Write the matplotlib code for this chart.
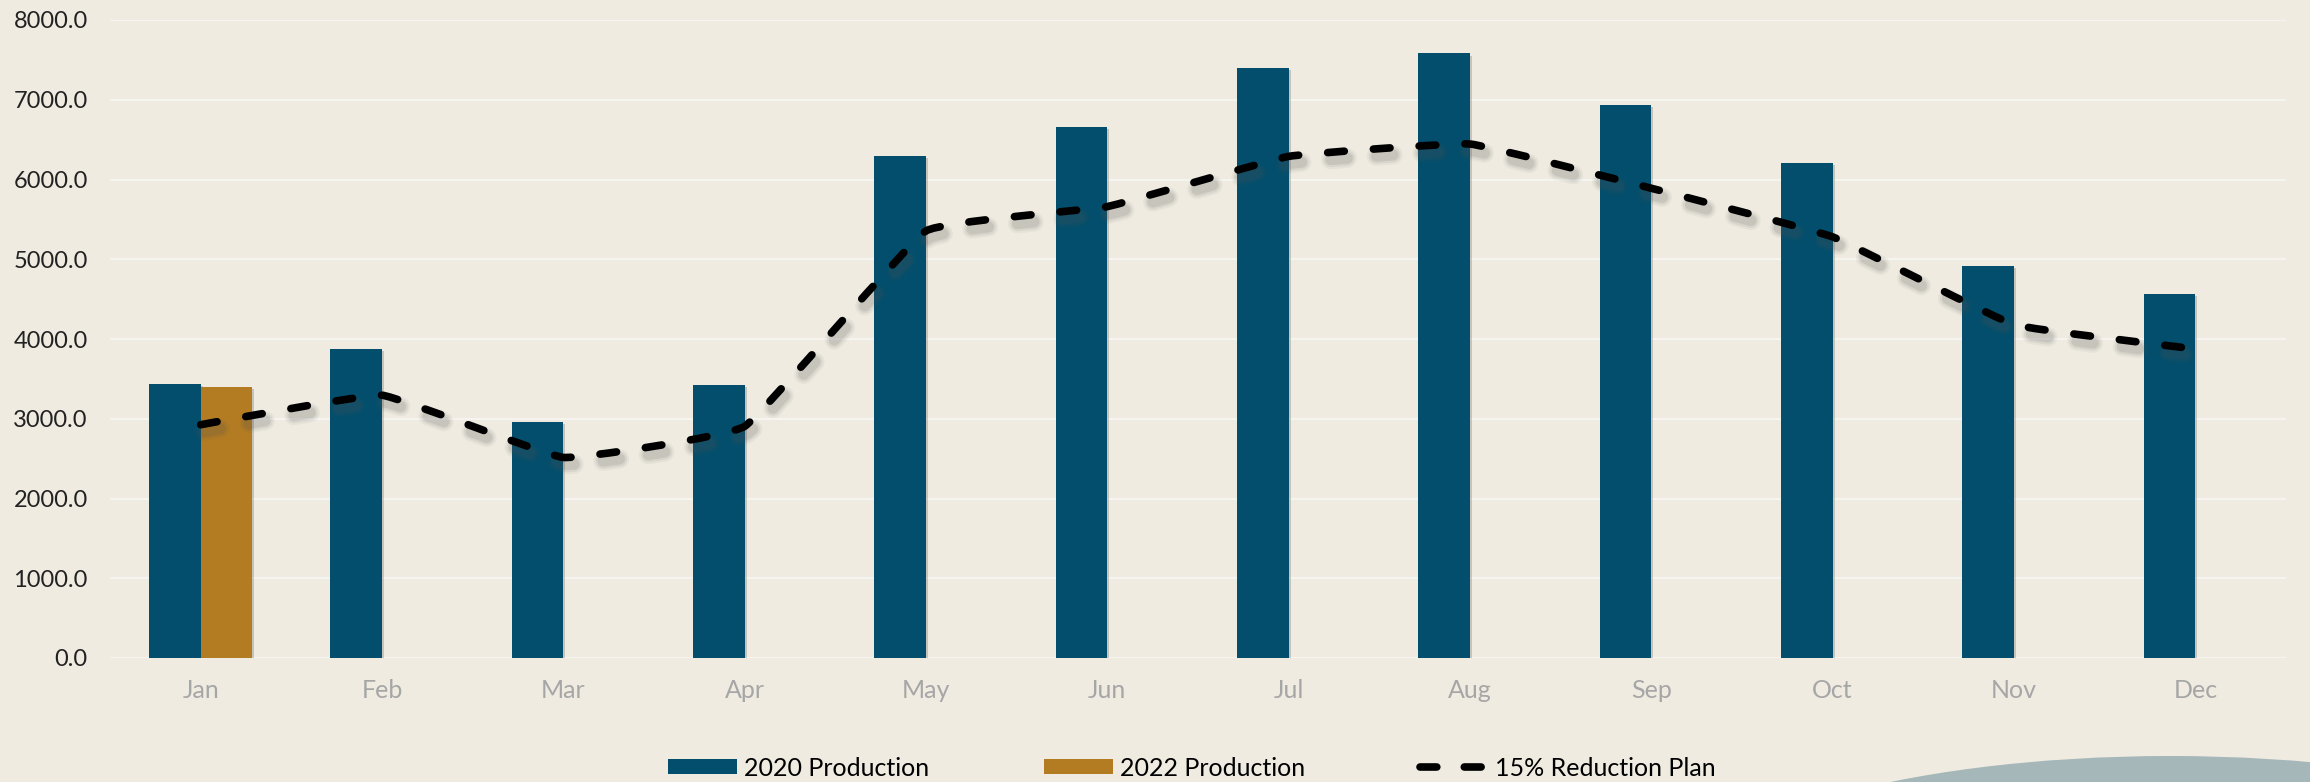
"""
2020 vs 2022 monthly production with the 15% reduction plan
"""
import matplotlib
matplotlib.use('Agg')
import matplotlib.pyplot as plt
import matplotlib.transforms as mtransforms
import matplotlib.patheffects as pe
from matplotlib.path import Path
from matplotlib.patches import PathPatch, Ellipse
from matplotlib.lines import Line2D
from matplotlib.patches import Patch
import numpy as np

plt.rcParams['font.family'] = ['Lato', 'DejaVu Sans']

months = ['Jan', 'Feb', 'Mar', 'Apr', 'May', 'Jun',
          'Jul', 'Aug', 'Sep', 'Oct', 'Nov', 'Dec']
prod_2020 = [3440, 3880, 2960, 3420, 6300, 6660,
             7400, 7580, 6930, 6210, 4920, 4560]
prod_2022_months = ['Jan']
prod_2022 = [3400]
reduction_plan = [2925, 3295, 2515, 2905, 5355, 5660,
                  6290, 6445, 5890, 5280, 4180, 3875]
y_ticks = [0, 1000, 2000, 3000, 4000, 5000, 6000, 7000, 8000]

BG = '#EFEBE1'
BLUE = '#024E6C'
GOLD = '#B47C22'

fig = plt.figure(figsize=(23.1, 7.82), dpi=100, facecolor=BG)
ax = fig.add_axes([110 / 2310, 124 / 782, 2176 / 2310, 638 / 782])
ax.set_facecolor(BG)

x = np.arange(len(months))
w = 0.285

# bars (2022 only has January), with a faint drop shadow
bar_fx = [pe.SimplePatchShadow(offset=(1.5, -1.5), shadow_rgbFace='#7a7a7a', alpha=0.35),
          pe.Normal()]
b1 = ax.bar(x - w / 2, prod_2020, width=w, color=BLUE, zorder=3)
x22 = [months.index(m) for m in prod_2022_months]
b2 = ax.bar(np.array(x22) + w / 2, prod_2022, width=w, color=GOLD, zorder=3)
for r in list(b1) + list(b2):
    r.set_path_effects(bar_fx)


# lightly smoothed line, corners stay visible
def smooth_path(xs, ys, k=22.0):
    pts = np.column_stack([xs, ys]).astype(float)
    ext = np.vstack([pts[0], pts, pts[-1]])
    verts = [pts[0]]
    codes = [Path.MOVETO]
    for i in range(len(pts) - 1):
        p0, p1, p2, p3 = ext[i], ext[i + 1], ext[i + 2], ext[i + 3]
        c1 = p1 + (p2 - p0) / k
        c2 = p2 - (p3 - p1) / k
        verts += [c1, c2, p2]
        codes += [Path.CURVE4] * 3
    return Path(verts, codes)


path = smooth_path(x, reduction_plan)
lw = 5.5
on, off = 12.0, 21.0  # points

# soft shadow below the line
shadow_tr = ax.transData + mtransforms.ScaledTranslation(3 / 100, -7 / 100, fig.dpi_scale_trans)
for lw_s, a in [(14, 0.06), (11, 0.09), (8, 0.13)]:
    ax.add_patch(PathPatch(path, fill=False, edgecolor='#555555', alpha=a,
                           lw=lw_s, linestyle=(0, (on / lw_s, off / lw_s)),
                           capstyle='round', transform=shadow_tr, zorder=4))
ax.add_patch(PathPatch(path, fill=False, edgecolor='black', lw=lw,
                       linestyle=(0, (on / lw, off / lw)), capstyle='round', zorder=5))

ax.set_xlim(-0.5, 11.5)
ax.set_ylim(0, 8000)
ax.set_xticks(x)
ax.set_xticklabels(months)
ax.set_yticks(y_ticks)
ax.set_yticklabels([f'{v:.1f}' for v in y_ticks])
ax.tick_params(axis='both', length=0)
ax.tick_params(axis='x', pad=15, labelcolor='#A6A6A6', labelsize=18)
ax.tick_params(axis='y', pad=16, labelcolor='#222222', labelsize=17)
ax.grid(axis='y', color='#F6F4EF', linewidth=1.6, zorder=0)
ax.set_axisbelow(True)
for s in ax.spines.values():
    s.set_visible(False)

handles = [Patch(facecolor=BLUE), Patch(facecolor=GOLD),
           Line2D([0], [0], color='black', lw=lw, linestyle=(0, (2.2, 3.6)),
                  dash_capstyle='round')]
labels = ['2020 Production', '2022 Production', '15% Reduction Plan']
fig.legend(handles, labels, loc='center', bbox_to_anchor=(1192 / 2310, 1 - 768 / 782),
           ncol=3, frameon=False, fontsize=18, handlelength=2.75,
           handleheight=0.55, handletextpad=0.28, columnspacing=4.6)

# decorative shape in the bottom-right corner
fig.patches.append(Ellipse((2170, 782 - 908), 1000, 304, facecolor='#A5B7B9',
                           edgecolor='none', transform=mtransforms.IdentityTransform(),
                           zorder=0))

fig.savefig('out.png', dpi=100, facecolor=BG)
